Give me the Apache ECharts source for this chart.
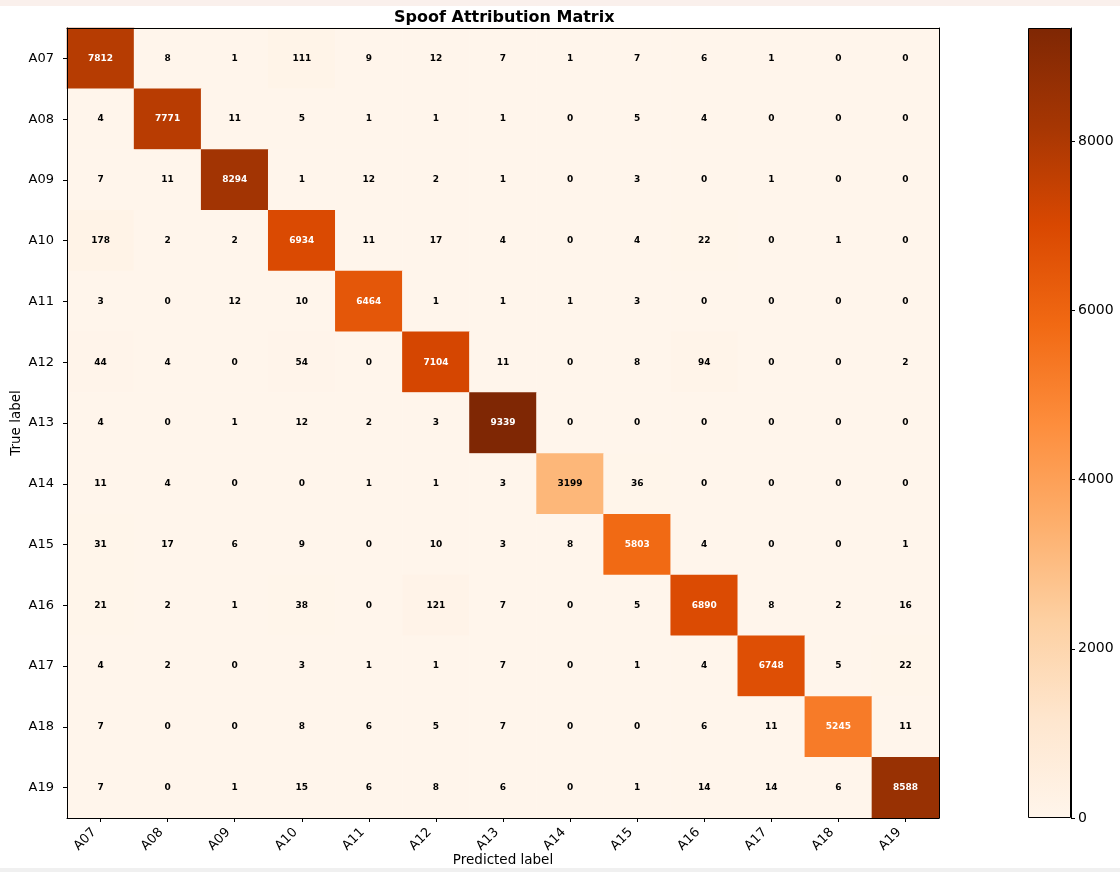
<!DOCTYPE html>
<html>
<head>
<meta charset="utf-8">
<title>Spoof Attribution Matrix</title>
<script src="https://cdn.jsdelivr.net/npm/echarts@6/dist/echarts.min.js"></script>
<style>
    html, body { margin: 0; padding: 0; background: #fff; }
    #main { width: 1120px; height: 872px; }
    .strip { position: absolute; left: 0; width: 1120px; pointer-events: none; }
</style>
</head>
<body>
<div id="main"></div>
<div class="strip" style="top:0;height:6px;background:#faf0ec;"></div>
<div class="strip" style="top:868px;height:4px;background:#f0f0f0;"></div>
<script>
    // 类别
    var labels = ['A07', 'A08', 'A09', 'A10', 'A11', 'A12', 'A13', 'A14', 'A15', 'A16', 'A17', 'A18', 'A19'];

    // 每一行 = 真实标签, 每一列 = 预测标签
    var rowA07 = [7812, 8, 1, 111, 9, 12, 7, 1, 7, 6, 1, 0, 0];
    var rowA08 = [4, 7771, 11, 5, 1, 1, 1, 0, 5, 4, 0, 0, 0];
    var rowA09 = [7, 11, 8294, 1, 12, 2, 1, 0, 3, 0, 1, 0, 0];
    var rowA10 = [178, 2, 2, 6934, 11, 17, 4, 0, 4, 22, 0, 1, 0];
    var rowA11 = [3, 0, 12, 10, 6464, 1, 1, 1, 3, 0, 0, 0, 0];
    var rowA12 = [44, 4, 0, 54, 0, 7104, 11, 0, 8, 94, 0, 0, 2];
    var rowA13 = [4, 0, 1, 12, 2, 3, 9339, 0, 0, 0, 0, 0, 0];
    var rowA14 = [11, 4, 0, 0, 1, 1, 3, 3199, 36, 0, 0, 0, 0];
    var rowA15 = [31, 17, 6, 9, 0, 10, 3, 8, 5803, 4, 0, 0, 1];
    var rowA16 = [21, 2, 1, 38, 0, 121, 7, 0, 5, 6890, 8, 2, 16];
    var rowA17 = [4, 2, 0, 3, 1, 1, 7, 0, 1, 4, 6748, 5, 22];
    var rowA18 = [7, 0, 0, 8, 6, 5, 7, 0, 0, 6, 11, 5245, 11];
    var rowA19 = [7, 0, 1, 15, 6, 8, 6, 0, 1, 14, 14, 6, 8588];

    var matrix = [rowA07, rowA08, rowA09, rowA10, rowA11, rowA12, rowA13,
        rowA14, rowA15, rowA16, rowA17, rowA18, rowA19];

    // colorbar 刻度
    var barTicks = [0, 2000, 4000, 6000, 8000];

    // matplotlib Oranges
    var oranges = ['#fff5eb', '#fee6ce', '#fdd0a2', '#fdae6b', '#fd8d3c',
        '#f16913', '#d94801', '#a63603', '#7f2704'];

    var vmax = 0;
    matrix.forEach(function (row) {
        row.forEach(function (v) { if (v > vmax) vmax = v; });
    });
    var thresh = vmax / 2;

    var cells = [];
    matrix.forEach(function (row, i) {
        row.forEach(function (v, j) {
            cells.push({
                value: [j, i, v],
                label: {color: v > thresh ? '#ffffff' : '#000000'}
            });
        });
    });

    var stops = oranges.map(function (c, i) {
        return {offset: i / (oranges.length - 1), color: c};
    });

    var font = 'DejaVu Sans';
    var myChart = echarts.init(document.getElementById('main'), null, {renderer: 'canvas'});

    var option = {
        backgroundColor: '#ffffff',
        animation: false,
        textStyle: {fontFamily: font},
        title: {
            text: 'Spoof Attribution Matrix',
            left: 389,
            top: 5,
            textStyle: {fontFamily: font, fontSize: 16, fontWeight: 'bold', color: '#000'}
        },
        grid: [
            {left: 67, top: 28, width: 872, height: 790, outerBoundsMode: 'none', containLabel: false},
            {left: 1028, top: 28, width: 43, height: 790, outerBoundsMode: 'none', containLabel: false}
        ],
        visualMap: {
            show: false,
            seriesIndex: 0,
            min: 0,
            max: vmax,
            inRange: {color: oranges}
        },
        xAxis: [
            {
                type: 'category',
                gridIndex: 0,
                data: labels,
                position: 'bottom',
                z: 10,
                name: 'Predicted label',
                nameLocation: 'middle',
                nameGap: 35,
                nameMoveOverlap: false,
                nameTextStyle: {fontFamily: font, fontSize: 13.5, color: '#000'},
                axisLine: {show: true, lineStyle: {color: '#000', width: 1}},
                axisTick: {show: true, alignWithLabel: true, length: 4, lineStyle: {color: '#000'}},
                axisLabel: {rotate: 45, fontFamily: font, fontSize: 13, color: '#000', margin: 6, padding: [0, 9, 0, 0]},
                splitLine: {show: false}
            },
            {
                type: 'category',
                gridIndex: 0,
                data: labels,
                position: 'top',
                z: 10,
                axisLine: {show: true, lineStyle: {color: '#000', width: 1}},
                axisTick: {show: false},
                axisLabel: {show: false}
            },
            {
                type: 'category',
                gridIndex: 1,
                data: [''],
                show: false
            }
        ],
        yAxis: [
            {
                type: 'category',
                gridIndex: 0,
                data: labels,
                inverse: true,
                position: 'left',
                z: 10,
                name: 'True label',
                nameLocation: 'middle',
                nameRotate: 90,
                nameGap: 44,
                nameMoveOverlap: false,
                nameTextStyle: {fontFamily: font, fontSize: 13.5, color: '#000'},
                axisLine: {show: true, lineStyle: {color: '#000', width: 1}},
                axisTick: {show: true, alignWithLabel: true, length: 4, lineStyle: {color: '#000'}},
                axisLabel: {fontFamily: font, fontSize: 13, color: '#000', margin: 13},
                splitLine: {show: false}
            },
            {
                type: 'category',
                gridIndex: 0,
                data: labels,
                inverse: true,
                position: 'right',
                z: 10,
                axisLine: {show: true, lineStyle: {color: '#000', width: 1}},
                axisTick: {show: false},
                axisLabel: {show: false}
            },
            {
                type: 'value',
                gridIndex: 1,
                min: 0,
                max: vmax,
                position: 'right',
                z: 10,
                axisLine: {show: true, lineStyle: {color: '#000', width: 1}},
                axisTick: {show: true, length: 4, lineStyle: {color: '#000'}, customValues: barTicks},
                axisLabel: {
                    fontFamily: font, fontSize: 14, color: '#000', margin: 7,
                    customValues: barTicks,
                    formatter: function (v) { return String(v); }
                },
                splitLine: {show: false}
            }
        ],
        series: [
            {
                type: 'heatmap',
                xAxisIndex: 0,
                yAxisIndex: 0,
                data: cells,
                label: {
                    show: true,
                    fontFamily: font,
                    fontSize: 9,
                    fontWeight: 'bold',
                    formatter: function (p) { return p.value[2]; }
                },
                emphasis: {disabled: true}
            },
            {
                // colorbar
                type: 'bar',
                xAxisIndex: 2,
                yAxisIndex: 2,
                data: [vmax],
                barWidth: '100%',
                silent: true,
                itemStyle: {
                    color: new echarts.graphic.LinearGradient(0, 1, 0, 0, stops),
                    borderColor: '#000',
                    borderWidth: 1
                }
            }
        ]
    };

    myChart.setOption(option);
</script>
</body>
</html>
